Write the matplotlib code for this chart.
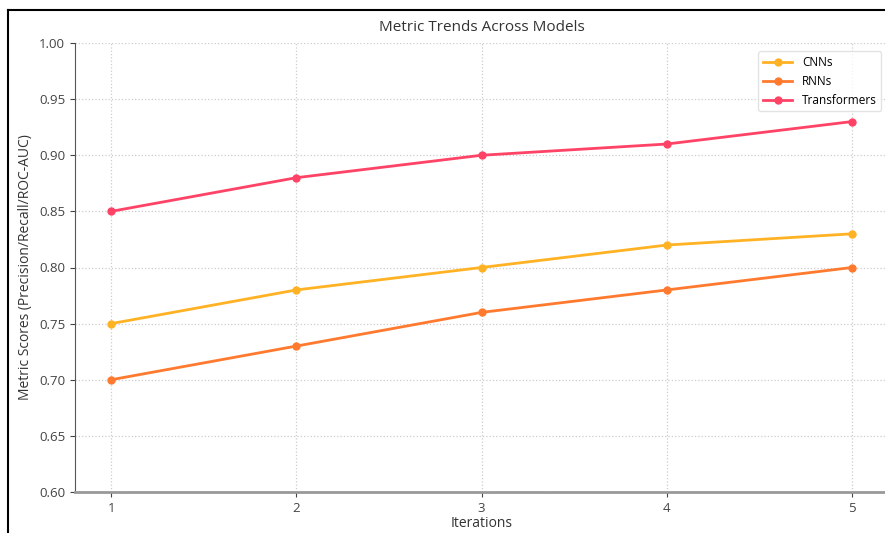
import matplotlib.pyplot as plt
from matplotlib.lines import Line2D

# Data
iterations = [1, 2, 3, 4, 5]
cnns = [0.75, 0.78, 0.80, 0.82, 0.83]
rnns = [0.70, 0.73, 0.76, 0.78, 0.80]
transformers = [0.85, 0.88, 0.90, 0.91, 0.93]

plt.rcParams["font.family"] = ["Open Sans", "DejaVu Sans"]

fig = plt.figure(figsize=(8.85, 5.33), dpi=100)
ax = fig.add_axes([75 / 885, 41 / 533, 814 / 885, 449 / 533])

ax.plot(iterations, cnns, marker="o", markersize=5, linewidth=2, color="#FFB224", label="CNNs")
ax.plot(iterations, rnns, marker="o", markersize=5, linewidth=2, color="#FF7A2E", label="RNNs")
ax.plot(iterations, transformers, marker="o", markersize=5, linewidth=2, color="#FF4366", label="Transformers")

ax.set_xlim(0.805, 5.2)
ax.set_ylim(0.60, 1.00)
ax.set_xticks(iterations)
ax.set_yticks([0.60, 0.65, 0.70, 0.75, 0.80, 0.85, 0.90, 0.95, 1.00])
ax.yaxis.set_major_formatter(plt.FormatStrFormatter("%.2f"))
ax.tick_params(labelsize=9.5, colors="#444444")

ax.set_title("Metric Trends Across Models", fontsize=11, color="#333333", pad=9)
ax.set_xlabel("Iterations", fontsize=10, color="#333333", labelpad=1)
ax.set_ylabel("Metric Scores (Precision/Recall/ROC-AUC)", fontsize=10, color="#333333")

ax.grid(True, linestyle=":", color="#cccccc", linewidth=0.9)
ax.spines["top"].set_visible(False)
ax.spines["right"].set_visible(False)
ax.spines["left"].set_color("#555555")
ax.spines["bottom"].set_color("#999999")
ax.spines["bottom"].set_linewidth(2)

ax.legend(loc="upper right", fontsize=8.5, frameon=True, edgecolor="#dddddd",
          bbox_to_anchor=(0.998, 0.995), handlelength=2.5)

# outer screenshot frame (top and left edges)
fig.add_artist(Line2D([8 / 885, 1], [1 - 10 / 533, 1 - 10 / 533], color="black", linewidth=1.5, transform=fig.transFigure))
fig.add_artist(Line2D([8 / 885, 8 / 885], [0, 1 - 10 / 533], color="black", linewidth=1.5, transform=fig.transFigure))

fig.savefig("out.png", dpi=100)
